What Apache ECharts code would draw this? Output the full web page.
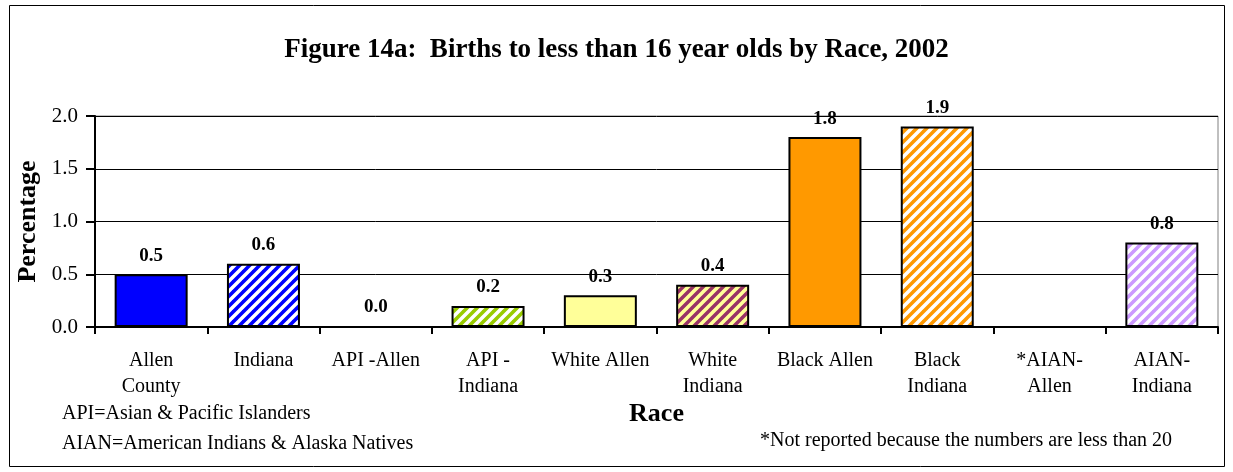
<!DOCTYPE html>
<html>
<head>
<meta charset="utf-8">
<script src="https://cdn.jsdelivr.net/npm/echarts@6/dist/echarts.min.js"></script>
<style>
	html, body { margin: 0; padding: 0; background: #fff; }
	#chart { width: 1233px; height: 472px; }
</style>
</head>
<body>
<div id="chart"></div>
<script>
const categories = ["Allen\nCounty", "Indiana", "API -Allen", "API -\nIndiana", "White Allen", "White\nIndiana", "Black Allen", "Black\nIndiana", "*AIAN-\nAllen", "AIAN-\nIndiana"];
const values = [0.5, 0.6, 0.0, 0.2, 0.3, 0.4, 1.8, 1.9, null, 0.8];
const fills = ["#0000ff", "#0000ff", "#ffffff", "#99cc00", "#ffff99", "#ffff99", "#ff9900", "#ff9900", "#ffffff", "#cc99ff"];
const stripes = [null, "#ffffff", null, "#ffffff", null, "#993366", null, "#ffffff", null, "#ffffff"];
const yTicks = [0, 0.5, 1.0, 1.5, 2.0];

const font = "Liberation Serif, Times New Roman, serif";

// diagonal stripe tile
function stripeTile(bg, fg) {
	const c = document.createElement("canvas");
	c.width = 10;
	c.height = 10;
	const ctx = c.getContext("2d");
	ctx.fillStyle = bg;
	ctx.fillRect(0, 0, 10, 10);
	ctx.strokeStyle = fg;
	ctx.lineWidth = 3.5;
	ctx.beginPath();
	for (let k = -10; k <= 20; k += 10) {
		ctx.moveTo(k - 1, 11);
		ctx.lineTo(k + 11, -1);
	}
	ctx.stroke();
	return c;
}

const chart = echarts.init(document.getElementById("chart"));

const option = {
	animation: false,
	backgroundColor: "#fff",
	title: {
		text: "Figure 14a:  Births to less than 16 year olds by Race, 2002",
		left: "center",
		top: 32,
		textStyle: {fontFamily: font, fontSize: 27, fontWeight: "bold", color: "#000"}
	},
	grid: {
		left: 95,
		right: 15,
		top: 116,
		bottom: 145,
		show: true,
		borderColor: "#808080",
		borderWidth: 1
	},
	xAxis: {
		type: "category",
		data: categories,
		name: "Race",
		nameLocation: "middle",
		nameGap: 70,
		nameTextStyle: {fontFamily: font, fontSize: 26, fontWeight: "bold", color: "#000"},
		axisLine: {lineStyle: {color: "#000", width: 2}},
		axisTick: {show: true, interval: 0, length: 7, lineStyle: {color: "#000", width: 2}},
		axisLabel: {interval: 0, fontFamily: font, fontSize: 20, color: "#000", margin: 21, lineHeight: 26}
	},
	yAxis: {
		type: "value",
		min: 0,
		max: 2,
		interval: 0.5,
		name: "Percentage",
		nameLocation: "middle",
		nameGap: 53,
		nameTextStyle: {fontFamily: font, fontSize: 26, fontWeight: "bold", color: "#000"},
		axisLine: {show: true, lineStyle: {color: "#000", width: 2}},
		axisTick: {show: true, length: 9, lineStyle: {color: "#000", width: 2}},
		axisLabel: {
			fontFamily: font, fontSize: 21, color: "#000", margin: 17,
			formatter: v => yTicks.includes(v) ? v.toFixed(1) : ""
		},
		splitLine: {lineStyle: {color: "#000", width: 1}}
	},
	series: [
		{
			type: "bar",
			barCategoryGap: "35%",
			data: values.map((v, i) => ({
				value: v,
				itemStyle: {
					color: stripes[i] ? {image: stripeTile(fills[i], stripes[i]), repeat: "repeat"} : fills[i],
					borderColor: "#000",
					borderWidth: 2
				}
			})),
			label: {
				show: true,
				position: "top",
				distance: 9,
				fontFamily: font,
				fontSize: 19,
				fontWeight: "bold",
				color: "#000",
				formatter: p => p.value == null ? "" : p.value.toFixed(1)
			}
		}
	],
	graphic: [
		{
			type: "rect",
			shape: {x: 9.5, y: 5.5, width: 1215, height: 461},
			style: {fill: null, stroke: "#000", lineWidth: 1},
			silent: true
		},
		{
			type: "text",
			left: 62,
			top: 404,
			style: {text: "API=Asian & Pacific Islanders", font: "20px " + font, fill: "#000"}
		},
		{
			type: "text",
			left: 62,
			top: 434,
			style: {text: "AIAN=American Indians & Alaska Natives", font: "20px " + font, fill: "#000"}
		},
		{
			type: "text",
			left: 760,
			top: 431,
			style: {text: "*Not reported because the numbers are less than 20", font: "20px " + font, fill: "#000"}
		}
	]
};

chart.setOption(option);
</script>
</body>
</html>
